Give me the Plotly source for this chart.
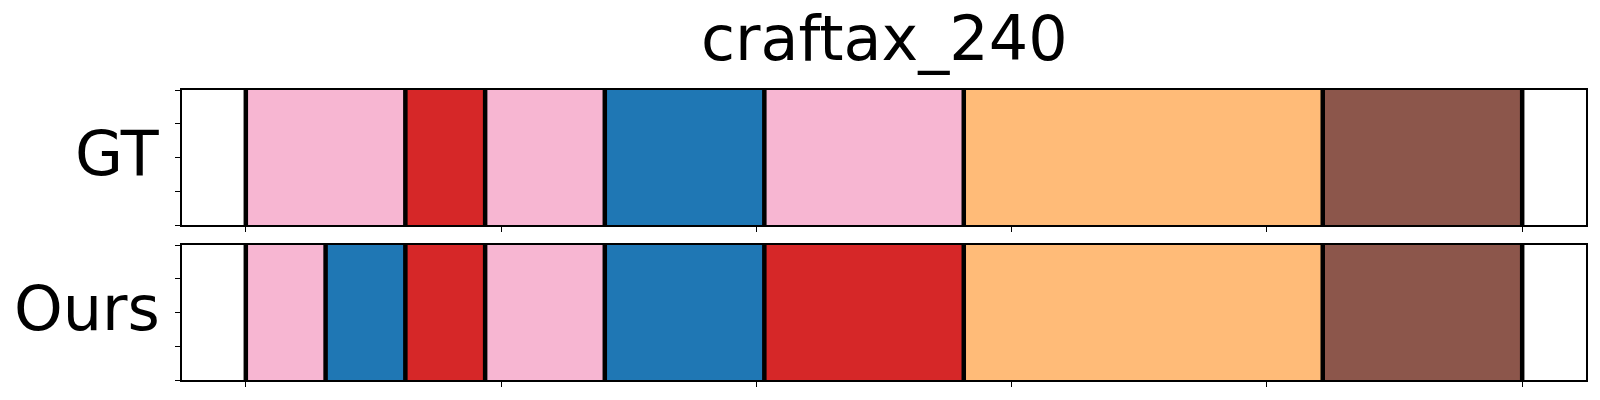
import plotly.graph_objects as go

# Segment boundaries (x units) and colours
gt_bounds = [0, 31.25, 46.875, 70.3125, 101.5625, 140.625, 210.9375, 250]
gt_colors = ["#f7b6d2", "#d62728", "#f7b6d2", "#1f77b4", "#f7b6d2", "#ffbb78", "#8c564b"]
ours_bounds = [0, 15.625, 31.25, 46.875, 70.3125, 101.5625, 140.625, 210.9375, 250]
ours_colors = ["#f7b6d2", "#1f77b4", "#d62728", "#f7b6d2", "#1f77b4", "#d62728", "#ffbb78", "#8c564b"]
row_labels = ["GT", "Ours"]
title_text = "craftax_240"
x_ticks = [0, 50, 100, 150, 200, 250]
y_ticks = [0, 0.25, 0.5, 0.75, 1.0]

W, H = 1600, 400
ml, mr, mt, mb = 182, 14, 90, 20
plot_h = H - mt - mb
gap = 20
sub_h = (plot_h - gap) / 2

fig = go.Figure()

def add_row(bounds, colors, xa, ya):
    for i, c in enumerate(colors):
        fig.add_trace(go.Bar(
            orientation="h", y=[0.5], x=[bounds[i + 1] - bounds[i]], base=[bounds[i]],
            width=[1.0], marker=dict(color=c, line=dict(width=0)),
            xaxis=xa, yaxis=ya, showlegend=False, hoverinfo="skip"))
    xs, ys = [], []
    for b in bounds:
        xs += [b, b, None]
        ys += [0, 1, None]
    fig.add_trace(go.Scatter(x=xs, y=ys, mode="lines", line=dict(color="black", width=4.5),
                             xaxis=xa, yaxis=ya, showlegend=False, hoverinfo="skip",
                             cliponaxis=True))

add_row(gt_bounds, gt_colors, "x", "y")
add_row(ours_bounds, ours_colors, "x2", "y2")

top_dom = [(sub_h + gap) / plot_h, 1.0]
bot_dom = [0.0, sub_h / plot_h]

ax_common = dict(showline=True, linecolor="black", linewidth=1.5, mirror=True,
                 ticks="outside", ticklen=5, tickwidth=1.2, tickcolor="black",
                 showticklabels=False, showgrid=False, zeroline=False)

fig.update_layout(
    width=W, height=H, barmode="overlay", bargap=0,
    paper_bgcolor="white", plot_bgcolor="white",
    margin=dict(l=ml, r=mr, t=mt, b=mb),
    xaxis=dict(domain=[0, 1], range=[-12.5, 262.5], tickvals=x_ticks, anchor="y", **ax_common),
    yaxis=dict(domain=top_dom, range=[0, 1], tickvals=y_ticks, anchor="x", **ax_common),
    xaxis2=dict(domain=[0, 1], range=[-12.5, 262.5], tickvals=x_ticks, anchor="y2", matches="x", **ax_common),
    yaxis2=dict(domain=bot_dom, range=[0, 1], tickvals=y_ticks, anchor="x2", **ax_common),
    font=dict(family="DejaVu Sans", color="black"),
)

fig.add_annotation(text=title_text, xref="paper", yref="paper", x=0.5, y=1,
                   xanchor="center", yanchor="bottom", yshift=14, borderpad=0, showarrow=False,
                   font=dict(size=62, family="DejaVu Sans", color="black"))
for lab, dom in zip(row_labels, [top_dom, bot_dom]):
    fig.add_annotation(text=lab, xref="paper", yref="paper", x=0, y=(dom[0] + dom[1]) / 2,
                       xanchor="right", yanchor="middle", xshift=-20, yshift=4, showarrow=False,
                       font=dict(size=62, family="DejaVu Sans", color="black"))

fig.write_html("out.html", config={"displayModeBar": False},
               post_script="document.body.style.margin='0';")
